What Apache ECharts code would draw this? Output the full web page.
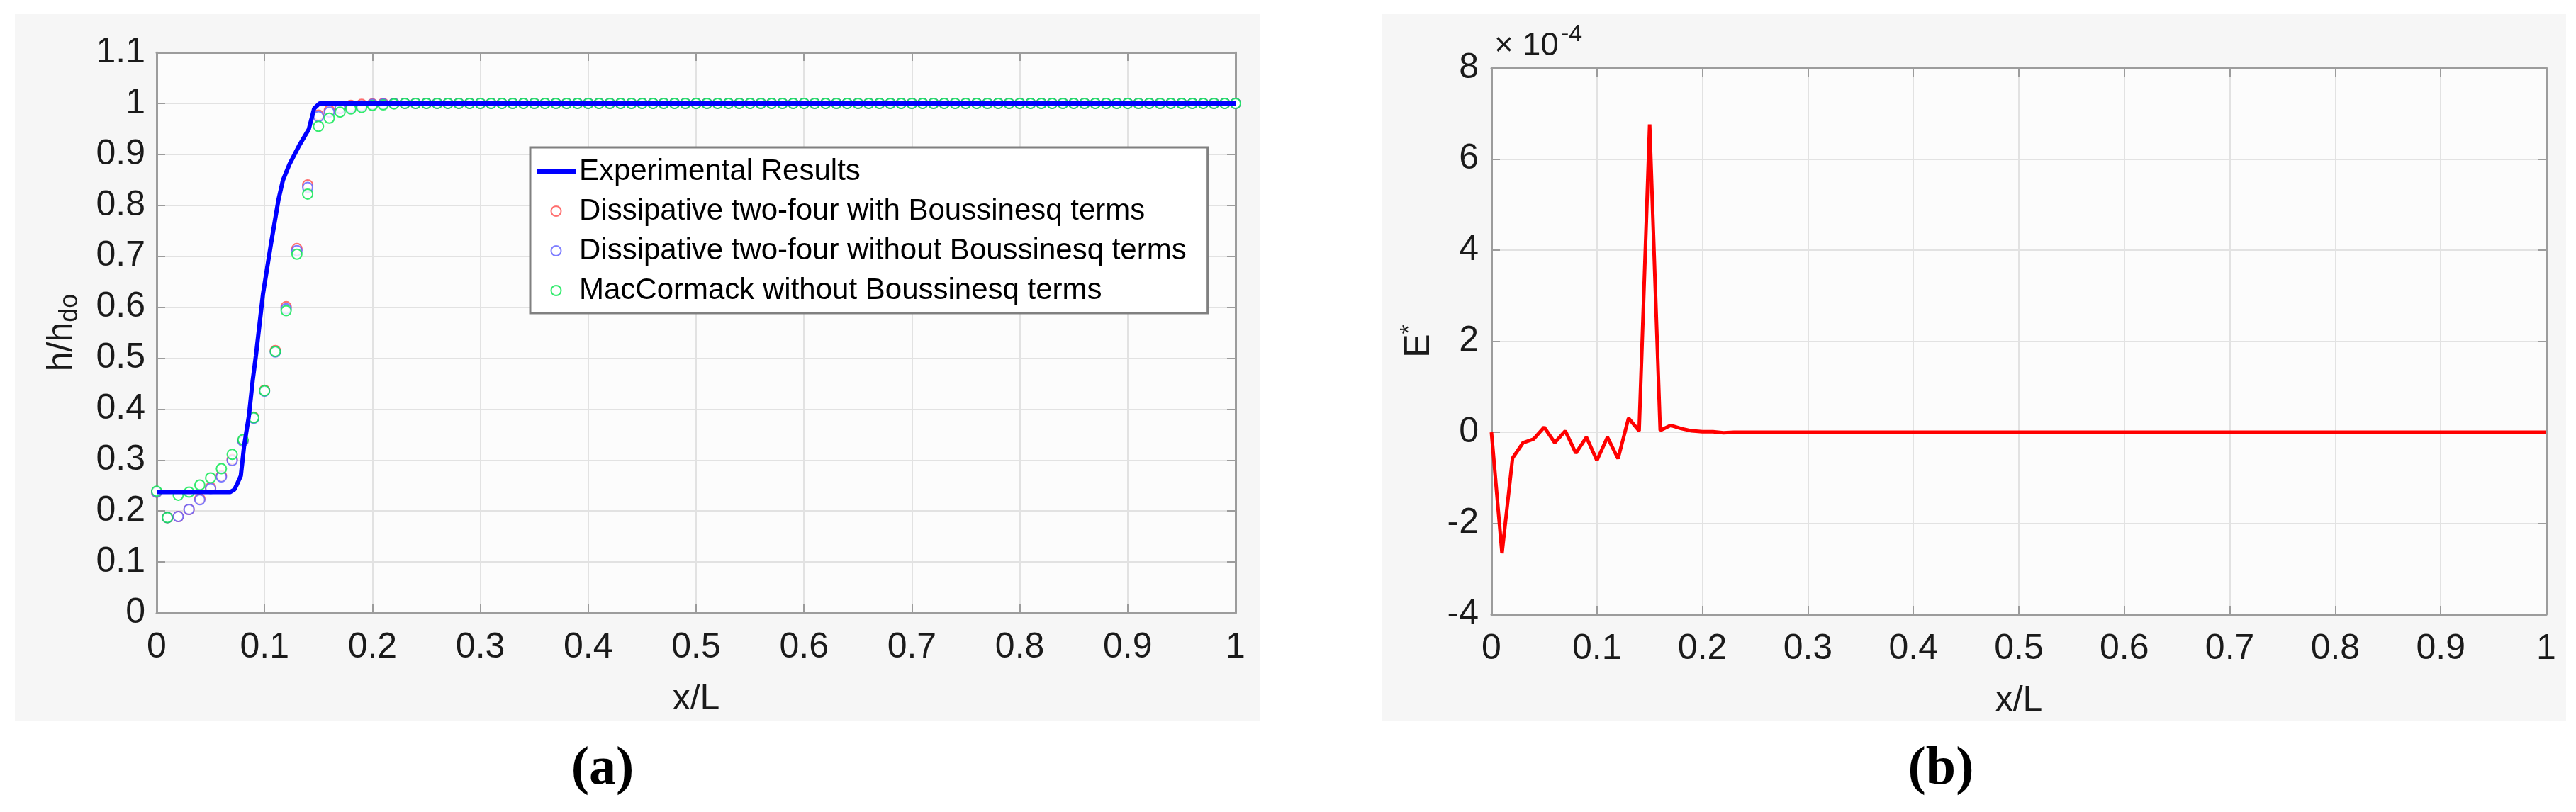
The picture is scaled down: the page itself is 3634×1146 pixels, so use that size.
<!DOCTYPE html>
<html>
<head>
<meta charset="utf-8">
<script src="https://cdn.jsdelivr.net/npm/echarts@6/dist/echarts.min.js"></script>
<style>
html,body{margin:0;padding:0;background:#ffffff;}
#chart{width:3634px;height:1146px;}
</style>
</head>
<body>
<div id="chart"></div>
<script>
// ---------- DATA ----------
const xSamples = [
  0.00,0.01,0.02,0.03,0.04,0.05,0.06,0.07,0.08,0.09,
  0.10,0.11,0.12,0.13,0.14,0.15,0.16,0.17,0.18,0.19,
  0.20,0.21,0.22,0.23,0.24,0.25,0.26,0.27,0.28,0.29,
  0.30,0.31,0.32,0.33,0.34,0.35,0.36,0.37,0.38,0.39,
  0.40,0.41,0.42,0.43,0.44,0.45,0.46,0.47,0.48,0.49,
  0.50,0.51,0.52,0.53,0.54,0.55,0.56,0.57,0.58,0.59,
  0.60,0.61,0.62,0.63,0.64,0.65,0.66,0.67,0.68,0.69,
  0.70,0.71,0.72,0.73,0.74,0.75,0.76,0.77,0.78,0.79,
  0.80,0.81,0.82,0.83,0.84,0.85,0.86,0.87,0.88,0.89,
  0.90,0.91,0.92,0.93,0.94,0.95,0.96,0.97,0.98,0.99,
  1.00
];

// Experimental Results (blue line), x/L and h/hdo
const expX = [0, 0.068, 0.072, 0.0746, 0.078, 0.081, 0.0855, 0.089, 0.092, 0.0985, 0.106, 0.113, 0.117, 0.123, 0.132, 0.141, 0.146, 0.151, 1.0];
const expY = [0.237, 0.237, 0.242, 0.253, 0.269, 0.327, 0.387, 0.456, 0.505, 0.625, 0.725, 0.812, 0.849, 0.880, 0.917, 0.949, 0.990, 1.0, 1.0];

// Dissipative two-four with Boussinesq terms (red circles)
const redValues = [
  0.237,0.187,0.189,0.203,0.224,0.246,0.269,0.301,0.338,0.384,
  0.437,0.515,0.601,0.715,0.840,0.977,0.986,0.993,0.996,0.998,
  0.999,1,1,1,1,1,1,1,1,1,
  1,1,1,1,1,1,1,1,1,1,
  1,1,1,1,1,1,1,1,1,1,
  1,1,1,1,1,1,1,1,1,1,
  1,1,1,1,1,1,1,1,1,1,
  1,1,1,1,1,1,1,1,1,1,
  1,1,1,1,1,1,1,1,1,1,
  1,1,1,1,1,1,1,1,1,1,
  1
];

// Dissipative two-four without Boussinesq terms (blue circles)
const blueValues = [
  0.237,0.187,0.189,0.203,0.222,0.244,0.267,0.299,0.337,0.382,
  0.435,0.512,0.597,0.711,0.835,0.974,0.983,0.990,0.992,0.995,
  0.998,0.999,1,1,1,1,1,1,1,1,
  1,1,1,1,1,1,1,1,1,1,
  1,1,1,1,1,1,1,1,1,1,
  1,1,1,1,1,1,1,1,1,1,
  1,1,1,1,1,1,1,1,1,1,
  1,1,1,1,1,1,1,1,1,1,
  1,1,1,1,1,1,1,1,1,1,
  1,1,1,1,1,1,1,1,1,1,
  1
];

// MacCormack without Boussinesq terms (green circles)
const greenValues = [
  0.239,0.187,0.231,0.237,0.251,0.265,0.283,0.311,0.340,0.383,
  0.436,0.513,0.593,0.704,0.822,0.955,0.971,0.983,0.989,0.992,
  0.996,0.997,0.999,1,1,1,1,1,1,1,
  1,1,1,1,1,1,1,1,1,1,
  1,1,1,1,1,1,1,1,1,1,
  1,1,1,1,1,1,1,1,1,1,
  1,1,1,1,1,1,1,1,1,1,
  1,1,1,1,1,1,1,1,1,1,
  1,1,1,1,1,1,1,1,1,1,
  1,1,1,1,1,1,1,1,1,1,
  1
];

// Panel (b): E* in units of 1e-4
const errorE4 = [
  0,-2.66,-0.57,-0.23,-0.15,0.11,-0.23,0.03,-0.46,-0.11,
  -0.62,-0.11,-0.58,0.31,0.03,6.76,0.04,0.15,0.08,0.03,
  0.01,0.01,-0.01,0,0,0,0,0,0,0,
  0,0,0,0,0,0,0,0,0,0,
  0,0,0,0,0,0,0,0,0,0,
  0,0,0,0,0,0,0,0,0,0,
  0,0,0,0,0,0,0,0,0,0,
  0,0,0,0,0,0,0,0,0,0,
  0,0,0,0,0,0,0,0,0,0,
  0,0,0,0,0,0,0,0,0,0,
  0
];

const seriesNames = [
  'Experimental Results',
  'Dissipative two-four with Boussinesq terms',
  'Dissipative two-four without Boussinesq terms',
  'MacCormack without Boussinesq terms'
];
const xTicksA = {min: 0, max: 1, interval: 0.1};
const yTicksA = {min: 0, max: 1.1, interval: 0.1};
const yTicksB = {min: -4, max: 8, interval: 2};

// ---------- CHART ----------
const FONT = '"Liberation Sans", Arial, Helvetica, sans-serif';
const AX = '#9c9c9c';
const GRIDC = '#e2e2e2';
const TXT = '#1a1a1a';

function fmt1(v){ return String(+(+v).toFixed(1)); }

function xMain(gi){
  return {
    gridIndex: gi, type: 'value', position: 'bottom',
    min: xTicksA.min, max: xTicksA.max, interval: xTicksA.interval,
    axisLine: {show: true, onZero: false, lineStyle: {color: AX, width: 3}},
    axisTick: {show: true, inside: true, length: 12, lineStyle: {color: AX, width: 2}},
    splitLine: {show: true, lineStyle: {color: GRIDC, width: 2}},
    axisLabel: {fontSize: 50, color: TXT, fontFamily: FONT, margin: 24, formatter: fmt1},
    name: 'x/L', nameLocation: 'middle', nameGap: 97,
    nameTextStyle: {fontSize: 50, color: TXT, fontFamily: FONT}
  };
}
function xTop(gi){
  return {
    gridIndex: gi, type: 'value', position: 'top',
    min: xTicksA.min, max: xTicksA.max, interval: xTicksA.interval,
    axisLine: {show: true, onZero: false, lineStyle: {color: AX, width: 3}},
    axisTick: {show: true, inside: true, length: 12, lineStyle: {color: AX, width: 2}},
    splitLine: {show: false}, axisLabel: {show: false}
  };
}
function yRight(gi, t){
  return {
    gridIndex: gi, type: 'value', position: 'right',
    min: t.min, max: t.max, interval: t.interval,
    axisLine: {show: true, onZero: false, lineStyle: {color: AX, width: 3}},
    axisTick: {show: true, inside: true, length: 12, lineStyle: {color: AX, width: 2}},
    splitLine: {show: false}, axisLabel: {show: false}
  };
}

const expData = expX.map((x, i) => [x, expY[i]]);
const pair = (vals) => xSamples.map((x, i) => [x, vals[i]]);

const scatterStyle = (color) => ({
  type: 'scatter', xAxisIndex: 0, yAxisIndex: 0,
  symbol: 'emptyCircle', symbolSize: 14,
  itemStyle: {color: color, borderColor: color, borderWidth: 3},
  emphasis: {disabled: true}
});

const option = {
  animation: false,
  backgroundColor: '#ffffff',
  graphic: [
    {type: 'rect', z: -100, shape: {x: 21, y: 20, width: 1757, height: 998}, style: {fill: '#f6f6f6'}},
    {type: 'rect', z: -100, shape: {x: 1950, y: 20, width: 1670, height: 998}, style: {fill: '#f6f6f6'}},
    {type: 'text', x: 850, y: 1086, style: {text: '(a)', font: 'bold 76px "Liberation Serif", "Times New Roman", serif', fill: '#000', align: 'center', verticalAlign: 'middle'}},
    {type: 'text', x: 2738, y: 1086, style: {text: '(b)', font: 'bold 76px "Liberation Serif", "Times New Roman", serif', fill: '#000', align: 'center', verticalAlign: 'middle'}},
    {type: 'text', x: 2108, y: 88, style: {text: '\u00d7 10', font: '46px ' + FONT, fill: TXT, align: 'left', verticalAlign: 'bottom'}},
    {type: 'text', x: 2202, y: 66, style: {text: '-4', font: '34px ' + FONT, fill: TXT, align: 'left', verticalAlign: 'bottom'}}
  ],
  legend: {
    data: [
      {name: seriesNames[0], icon: 'path://M0,0H55V6H0Z'},
      {name: seriesNames[1]},
      {name: seriesNames[2]},
      {name: seriesNames[3]}
    ],
    orient: 'vertical', left: 748, top: 208,
    padding: [12, 30, 10, 9], itemGap: 12,
    itemWidth: 55, itemHeight: 14,
    backgroundColor: '#ffffff', borderColor: '#808080', borderWidth: 3,
    textStyle: {fontSize: 42, color: '#000', fontFamily: FONT, lineHeight: 44},
    selectedMode: false
  },
  grid: [
    {left: 221, top: 74, width: 1522, height: 791, show: true, backgroundColor: '#fcfcfc', borderColor: AX, borderWidth: 0},
    {left: 2104, top: 96, width: 1488, height: 771, show: true, backgroundColor: '#fcfcfc', borderColor: AX, borderWidth: 0}
  ],
  xAxis: [xMain(0), xTop(0), xMain(1), xTop(1)],
  yAxis: [
    {
      gridIndex: 0, type: 'value', position: 'left',
      min: yTicksA.min, max: yTicksA.max, interval: yTicksA.interval,
      axisLine: {show: true, onZero: false, lineStyle: {color: AX, width: 3}},
      axisTick: {show: true, inside: true, length: 12, lineStyle: {color: AX, width: 2}},
      splitLine: {show: true, lineStyle: {color: GRIDC, width: 2}},
      axisLabel: {fontSize: 50, color: TXT, fontFamily: FONT, margin: 16, formatter: fmt1},
      name: '{m|h/h}{s|do}', nameLocation: 'middle', nameGap: 104, nameRotate: 90,
      nameTextStyle: {
        color: TXT, fontFamily: FONT, fontSize: 50,
        rich: {
          m: {fontSize: 50, lineHeight: 60, color: TXT, fontFamily: FONT},
          s: {fontSize: 36, lineHeight: 36, color: TXT, fontFamily: FONT, verticalAlign: 'bottom'}
        }
      }
    },
    yRight(0, yTicksA),
    {
      gridIndex: 1, type: 'value', position: 'left',
      min: yTicksB.min, max: yTicksB.max, interval: yTicksB.interval,
      axisLine: {show: true, onZero: false, lineStyle: {color: AX, width: 3}},
      axisTick: {show: true, inside: true, length: 12, lineStyle: {color: AX, width: 2}},
      splitLine: {show: true, lineStyle: {color: GRIDC, width: 2}},
      axisLabel: {fontSize: 50, color: TXT, fontFamily: FONT, margin: 18},
      name: '{m|E}{s|*}', nameLocation: 'middle', nameGap: 72, nameRotate: 90,
      nameTextStyle: {
        color: TXT, fontFamily: FONT, fontSize: 50,
        rich: {
          m: {fontSize: 50, lineHeight: 60, color: TXT, fontFamily: FONT},
          s: {fontSize: 34, lineHeight: 34, color: TXT, fontFamily: FONT, verticalAlign: 'top'}
        }
      }
    },
    yRight(1, yTicksB)
  ],
  series: [
    {
      name: seriesNames[0], type: 'line', xAxisIndex: 0, yAxisIndex: 0,
      data: expData, symbol: 'none', smooth: false,
      lineStyle: {color: '#0000ff', width: 6}, itemStyle: {color: '#0000ff'},
      emphasis: {disabled: true}
    },
    Object.assign({name: seriesNames[1], data: pair(redValues)}, scatterStyle('#ff4a4a')),
    Object.assign({name: seriesNames[2], data: pair(blueValues)}, scatterStyle('#5c5cff')),
    Object.assign({name: seriesNames[3], data: pair(greenValues)}, scatterStyle('#00e64a')),
    {
      name: 'E*', type: 'line', xAxisIndex: 2, yAxisIndex: 2,
      data: pair(errorE4), symbol: 'none',
      lineStyle: {color: '#ff0000', width: 5}, itemStyle: {color: '#ff0000'},
      emphasis: {disabled: true}
    }
  ]
};

const chart = echarts.init(document.getElementById('chart'), null, {renderer: 'canvas', width: 3634, height: 1146});
chart.setOption(option);
</script>
</body>
</html>
